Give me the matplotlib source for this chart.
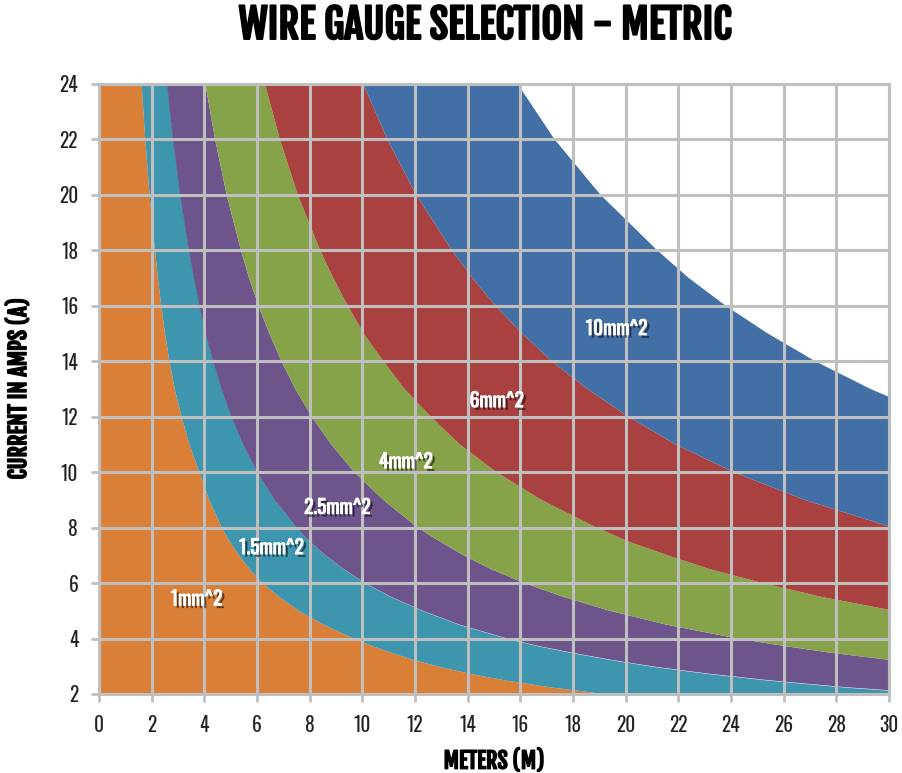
import matplotlib
matplotlib.use("Agg")
import matplotlib.pyplot as plt
import matplotlib.patheffects as pe
import numpy as np

# current levels (A) and the distance (m) where each gauge boundary sits
amps = [2, 2.25, 2.5, 2.75, 3, 3.25, 3.5, 3.75, 4, 4.5, 5, 5.5, 6, 6.5, 7, 7.5, 8, 9, 10, 11, 12, 13, 14, 15, 16, 17, 18, 20, 22, 24]
m_1mm = [19.3, 17.2, 15.45, 14.05, 12.9, 11.9, 11.1, 10.35, 9.7, 8.55, 7.6, 6.85, 6.2, 5.72, 5.31, 4.96, 4.65, 4.17, 3.8, 3.42, 3.12, 2.86, 2.66, 2.49, 2.35, 2.22, 2.11, 1.9, 1.74, 1.6]
m_1_5mm = [32.0, 28.3, 25.4, 23.0, 21.0, 19.35, 17.9, 16.6, 15.5, 13.7, 12.3, 11.1, 10.1, 9.3, 8.6, 8.0, 7.5, 6.67, 6.0, 5.47, 5.02, 4.65, 4.33, 4.05, 3.81, 3.6, 3.41, 3.08, 2.81, 2.58]
m_2_5mm = [48.5, 43.1, 38.8, 35.3, 32.3, 29.85, 27.7, 25.9, 24.25, 21.55, 19.4, 17.65, 16.15, 14.9, 13.85, 12.95, 12.1, 10.8, 9.7, 8.82, 8.08, 7.46, 6.93, 6.47, 6.06, 5.7, 5.39, 4.85, 4.41, 4.04]
m_4mm = [75.5, 67.1, 60.4, 54.9, 50.3, 46.5, 43.1, 40.3, 37.75, 33.6, 30.2, 27.45, 25.2, 23.2, 21.6, 20.1, 18.9, 16.8, 15.1, 13.7, 12.6, 11.6, 10.8, 10.05, 9.45, 8.9, 8.4, 7.55, 6.87, 6.3]
m_6mm = [120.5, 107.0, 96.4, 87.6, 80.3, 74.2, 68.9, 64.3, 60.3, 53.6, 48.2, 43.8, 40.2, 37.1, 34.4, 32.1, 30.15, 26.8, 24.1, 21.9, 20.1, 18.55, 17.2, 16.07, 15.06, 14.18, 13.4, 12.05, 10.95, 10.04]
m_10mm = [190.5, 169.3, 152.4, 138.5, 127.0, 117.2, 108.9, 101.6, 95.25, 84.7, 76.2, 69.3, 63.5, 58.6, 54.4, 50.8, 47.6, 42.3, 38.1, 34.6, 31.75, 29.3, 27.2, 25.4, 23.8, 22.4, 21.2, 19.05, 17.3, 15.9]

gauges = ["1mm^2", "1.5mm^2", "2.5mm^2", "4mm^2", "6mm^2", "10mm^2"]
bounds = [m_1mm, m_1_5mm, m_2_5mm, m_4mm, m_6mm, m_10mm]
colors = ["#DA7F38", "#3E95AE", "#6D558C", "#87A34A", "#A8413F", "#426FA6"]
label_pos = [(3.7, 5.45), (6.55, 7.3), (9.05, 8.75), (11.65, 10.4), (15.1, 12.6), (19.65, 15.2)]

font = "Oswald"
head_font = "Fjalla One"
grid_col = "#BFBFBF"
bold = [pe.withStroke(linewidth=1.0, foreground="black")]

fig = plt.figure(figsize=(9.02, 7.73), dpi=100)
ax = fig.add_axes([99 / 902, 1 - 694 / 773, 790 / 902, 610 / 773])

left = np.zeros(len(amps))
for b, c in zip(bounds, colors):
    ax.fill_betweenx(amps, left, b, color=c, lw=0, zorder=1)
    left = np.array(b)

for (x, y), g in zip(label_pos, gauges):
    ax.text(x, y, g, color="white", fontsize=14, family=font,
            ha="center", va="center", zorder=5,
            path_effects=[pe.withSimplePatchShadow(offset=(2, -2), shadow_rgbFace="black", alpha=0.55),
                          pe.withStroke(linewidth=0.6, foreground="white")])

ax.set_xlim(0, 30)
ax.set_ylim(2, 24)
ax.set_xticks(np.arange(0, 31, 2))
ax.set_yticks(np.arange(2, 25, 2))
ax.grid(True, color=grid_col, lw=2.2, zorder=3)
ax.set_axisbelow(False)
for s in ax.spines.values():
    s.set_color(grid_col)
    s.set_linewidth(2.2)
ax.tick_params(colors=grid_col, width=2, length=6, labelcolor="#222222", labelsize=14, pad=9)
for lab in ax.get_xticklabels() + ax.get_yticklabels():
    lab.set_family(font)

ax.set_xlabel("METERS (M)", family=head_font, fontsize=16, labelpad=10, path_effects=bold)
ax.set_ylabel("CURRENT IN AMPS (A)", family=head_font, fontsize=16, labelpad=20, path_effects=bold)
fig.text(485 / 902, 1 - 26 / 773, "WIRE GAUGE SELECTION - METRIC", family=head_font,
         fontsize=29, ha="center", va="center",
         path_effects=[pe.withStroke(linewidth=1.4, foreground="black")])

fig.savefig("out.png", dpi=100)
